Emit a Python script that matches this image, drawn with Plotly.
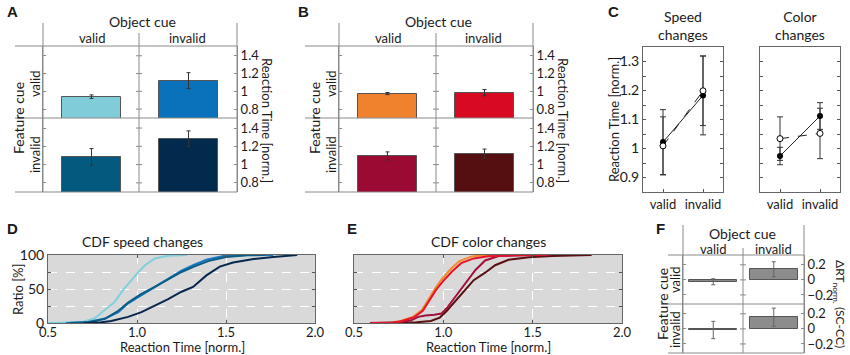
import plotly.graph_objects as go

W, H = 850, 355
def fx(x): return x / W
def fy(y): return 1 - y / H

# ---------------- DATA ----------------
cue_levels = ["valid", "invalid"]          # object cue (columns)
# Panel A: speed changes, mean RT (norm.) and error
speed_rt_fvalid = [0.94, 1.12]
speed_err_fvalid = [0.02, 0.09]
speed_rt_finvalid = [1.085, 1.284]
speed_err_finvalid = [0.09, 0.085]
speed_colors_fvalid = ["#80CDD9", "#0A72BA"]
speed_colors_finvalid = ["#035A7E", "#022A4C"]
# Panel B: color changes
color_rt_fvalid = [0.975, 0.985]
color_err_fvalid = [0.012, 0.035]
color_rt_finvalid = [1.094, 1.12]
color_err_finvalid = [0.045, 0.05]
color_colors_fvalid = ["#F0822E", "#D70A22"]
color_colors_finvalid = ["#9B0A33", "#560F10"]
# Panel C
c_x = [1, 2]
c_ticktext = ["valid", "invalid"]
speed_solid = [1.022, 1.183]
speed_solid_err = [0.112, 0.136]
speed_dashed = [1.009, 1.199]
speed_dashed_err = [0.100, 0.120]
color_solid = [0.974, 1.112]
color_solid_err = [0.030, 0.046]
color_dashed = [1.034, 1.052]
color_dashed_err = [0.075, 0.087]
# Panel D: CDF speed changes (RT norm., ratio %)
cyan_x = [0.50, 0.69, 0.76, 0.82, 0.875, 0.92, 0.96, 1.005, 1.045, 1.10, 1.175, 1.28]
cyan_y = [0, 1, 6.5, 19, 31, 48, 61, 74, 85, 95, 99, 100]
blue_x = [0.60, 0.725, 0.82, 0.895, 0.95, 1.025, 1.10, 1.175, 1.25, 1.315, 1.39, 1.485, 1.615, 1.765]
blue_y = [0, 1.5, 6.5, 16, 29, 41, 52, 64, 77, 85, 93, 98.5, 100, 100]
teal_x = [0.62, 0.73, 0.82, 0.89, 0.95, 1.02, 1.10, 1.18, 1.25, 1.32, 1.40, 1.50, 1.62, 1.72]
teal_y = [0, 1, 6, 17, 30, 42, 53, 65, 75, 83, 91, 97, 99.5, 100]
navy_x = [0.70, 0.80, 0.855, 0.95, 1.025, 1.10, 1.175, 1.25, 1.315, 1.39, 1.465, 1.54, 1.655, 1.765, 1.90]
navy_y = [0, 1, 3, 9, 16, 25, 35, 46, 53, 70, 83, 89, 94, 97, 100]
# Panel E: CDF color changes
orange_x = [0.60, 0.70, 0.76, 0.83, 0.88, 0.915, 0.955, 0.99, 1.04, 1.09, 1.16, 1.22, 1.28]
orange_y = [0, 0.5, 3, 9, 19, 34, 51, 64, 79, 91, 98, 99.5, 100]
red_x = [0.60, 0.72, 0.77, 0.84, 0.885, 0.92, 0.96, 1.00, 1.05, 1.10, 1.17, 1.25, 1.40, 1.58]
red_y = [0, 0.5, 3, 9, 18, 32, 49, 62, 76, 88, 95, 98, 99.5, 100]
crimson_x = [0.59, 0.75, 0.82, 0.86, 0.90, 0.95, 0.99, 1.02, 1.06, 1.10, 1.14, 1.18, 1.234, 1.31, 1.45, 1.60]
crimson_y = [0, 1, 4, 9, 11, 12, 14, 22, 36, 50, 64, 78, 92, 98.5, 99.5, 100]
maroon_x = [0.75, 0.85, 0.93, 0.98, 1.02, 1.06, 1.10, 1.14, 1.17, 1.234, 1.29, 1.365, 1.48, 1.61, 1.74, 1.83]
maroon_y = [0, 1, 3, 8, 18, 30, 42, 54, 63, 74, 85, 93, 96.6, 98.5, 99.5, 100]
# Panel F: delta RT (SC-CC)
delta_fvalid = [-0.025, 0.14]
delta_err_fvalid = [0.04, 0.10]
delta_finvalid = [-0.015, 0.155]
delta_err_finvalid = [0.115, 0.12]

FONT = "Lato"
TXT = "#1a1a1a"
LINE = "#8a8a8a"

fig = go.Figure()
layout = {}
shapes = []
anns = []

def ax_names(i):
    s = "" if i == 1 else str(i)
    return "xaxis" + s, "yaxis" + s, "x" + s, "y" + s

def ann(text, x, y, size=13, angle=0, bold=False, family=FONT, xanchor="center", yanchor="middle"):
    if bold:
        text = "<b>" + text + "</b>"
    anns.append(dict(text=text, x=fx(x), y=fy(y), xref="paper", yref="paper",
                     showarrow=False, textangle=angle, xanchor=xanchor, yanchor=yanchor,
                     font=dict(size=size, family=family, color=TXT)))

def hline(x0, x1, y, color=LINE, width=1):
    shapes.append(dict(type="line", xref="paper", yref="paper", x0=fx(x0), x1=fx(x1),
                       y0=fy(y), y1=fy(y), line=dict(color=color, width=width)))

def vline(x, y0, y1, color=LINE, width=1):
    shapes.append(dict(type="line", xref="paper", yref="paper", x0=fx(x), x1=fx(x),
                       y0=fy(y0), y1=fy(y1), line=dict(color=color, width=width)))

# ---------- grid bar panels (A, B, F) ----------
def bar_cell(i, xdom, ydom, vals, errs, colors, yrange, tickvals, midx, width, outline, errcolor, show_labels=True):
    xk, yk, xr, yr = ax_names(i)
    fig.add_trace(go.Bar(x=[0, 1], y=vals, width=width, marker=dict(color=colors, line=dict(color=outline, width=1)),
                         error_y=dict(type="data", array=errs, color=errcolor, thickness=1, width=2),
                         xaxis=xr, yaxis=yr, showlegend=False))
    layout[xk] = dict(domain=[fx(xdom[0]), fx(xdom[1])], anchor=yr, range=[-0.5, 1.5], automargin=False,
                      showgrid=False, zeroline=False, showticklabels=False, ticks="", showline=False)
    layout[yk] = dict(domain=[fy(ydom[1]), fy(ydom[0])], anchor=xr, range=yrange, side="right", automargin=False,
                      tickvals=tickvals, ticks="inside", ticklen=3, tickcolor=LINE,
                      showline=True, linecolor=LINE, mirror="ticks", showgrid=False, zeroline=False,
                      showticklabels=show_labels, tickfont=dict(size=13, family=FONT, color=TXT))
    for tv in tickvals:
        shapes.append(dict(type="line", xref="paper", yref=yr, x0=fx(midx - 3), x1=fx(midx + 3),
                           y0=tv, y1=tv, line=dict(color=LINE, width=1)))

def grid_frame(left, mid, right, hstart, topv, midtop, ytop, ymid, ybot):
    hline(hstart, right, ytop)
    hline(hstart, right, ymid)
    hline(hstart, right, ybot)
    vline(left, topv, ybot)
    vline(mid, midtop, ybot)
    vline(right, topv, ybot)

ab_range = [0.7, 1.51]
ab_ticks = [0.8, 1.0, 1.2, 1.4]
# A
bar_cell(1, (43, 237), (46, 118), speed_rt_fvalid, speed_err_fvalid, speed_colors_fvalid, ab_range, ab_ticks, 139, 0.6, "#555", "#333")
bar_cell(2, (43, 237), (118, 192), speed_rt_finvalid, speed_err_finvalid, speed_colors_finvalid, ab_range, ab_ticks, 139, 0.6, "#555", "#333")
grid_frame(43, 139, 237, 15, 23, 33, 46, 118, 192)
# B
bar_cell(3, (339, 533), (46, 118), color_rt_fvalid, color_err_fvalid, color_colors_fvalid, ab_range, ab_ticks, 436, 0.6, "#555", "#333")
bar_cell(4, (339, 533), (118, 192), color_rt_finvalid, color_err_finvalid, color_colors_finvalid, ab_range, ab_ticks, 436, 0.6, "#555", "#333")
grid_frame(339, 436, 533, 305, 23, 33, 46, 118, 192)

for ox, left, mid, right in [(0, 43, 139, 237), (296, 339, 436, 533)]:
    ann("Object cue", (left + right) / 2 + 2, 21, size=14)
    ann(cue_levels[0], (left + mid) / 2 + 1, 38, size=13)
    ann(cue_levels[1], (mid + right) / 2 - 1, 38, size=13)
    ann("Feature cue", left - 25, 118, size=14, angle=-90)
    ann(cue_levels[0], left - 8, 84, size=13, angle=-90)
    ann(cue_levels[1], left - 8, 155, size=13, angle=-90)
    ann("Reaction Time [norm.]", right + 30, 120, size=13, angle=90)

# F
f_range = [-0.32, 0.33]
f_ticks = [-0.2, 0, 0.2]
bar_cell(9, (683, 804), (255, 304), delta_fvalid, delta_err_fvalid, ["#8c8c8c", "#8c8c8c"], f_range, f_ticks, 743, 0.8, "#555", "#666")
bar_cell(10, (683, 804), (304, 353), delta_finvalid, delta_err_finvalid, ["#8c8c8c", "#8c8c8c"], f_range, f_ticks, 743, 0.8, "#555", "#666")
grid_frame(683, 743, 804, 668, 225, 248, 255, 304, 353)
ann("Object cue", 742, 233, size=14)
ann(cue_levels[0], 713, 249, size=13)
ann(cue_levels[1], 773, 249, size=13)
ann("Feature cue", 662, 304, size=14, angle=-90)
ann(cue_levels[0], 675, 280, size=13, angle=-90)
ann(cue_levels[1], 675, 330, size=13, angle=-90)
ann("ΔRT<sub>norm.</sub> (SC-CC)", 840, 304, size=12, angle=90)

# ---------- C ----------
def c_axes(i, xdom, show_labels):
    xk, yk, xr, yr = ax_names(i)
    layout[xk] = dict(domain=[fx(xdom[0]), fx(xdom[1])], anchor=yr, range=[0.5, 2.5], automargin=False,
                      tickvals=c_x, ticktext=c_ticktext, ticks="inside", ticklen=3, tickcolor="#555",
                      showline=True, linecolor="#666", mirror=True, showgrid=False, zeroline=False,
                      tickfont=dict(size=13, family=FONT, color=TXT))
    layout[yk] = dict(domain=[fy(192), fy(47)], anchor=xr, range=[0.85, 1.35], automargin=False,
                      tick0=0.9, dtick=0.1, ticks="inside", ticklen=3, tickcolor="#555",
                      minor=dict(dtick=0.05, ticks="inside", ticklen=3, tickcolor="#555"),
                      showline=True, linecolor="#666", mirror="ticks", showgrid=False, zeroline=False,
                      showticklabels=show_labels, tickfont=dict(size=14, family=FONT, color=TXT))
    return xr, yr

for i, xdom, solid, solid_err, dashed, dashed_err, lab in [
        (5, (643, 723), speed_solid, speed_solid_err, speed_dashed, speed_dashed_err, True),
        (6, (760, 840), color_solid, color_solid_err, color_dashed, color_dashed_err, False)]:
    xr, yr = c_axes(i, xdom, lab)
    fig.add_trace(go.Scatter(x=c_x, y=dashed, mode="lines", line=dict(color="#222", width=1, dash="dash"),
                             error_y=dict(type="data", array=dashed_err, color="#333", thickness=1, width=3),
                             xaxis=xr, yaxis=yr, showlegend=False))
    fig.add_trace(go.Scatter(x=c_x, y=solid, mode="lines+markers", line=dict(color="#222", width=1),
                             marker=dict(color="black", size=6),
                             error_y=dict(type="data", array=solid_err, color="#333", thickness=1, width=3),
                             xaxis=xr, yaxis=yr, showlegend=False))
    fig.add_trace(go.Scatter(x=c_x, y=dashed, mode="markers",
                             marker=dict(color="white", size=6, line=dict(color="black", width=1)),
                             xaxis=xr, yaxis=yr, showlegend=False))

ann("Speed<br>changes", 683, 25, size=14)
ann("Color<br>changes", 800, 25, size=14)
ann("Reaction Time [norm.]", 614, 120, size=13, angle=-90)

# ---------- D, E ----------
def cdf_axes(i, xdom, show_ylabels):
    xk, yk, xr, yr = ax_names(i)
    layout[xk] = dict(domain=[fx(xdom[0]), fx(xdom[1])], anchor=yr, range=[0.5, 2.0], automargin=False,
                      tickvals=[0.5, 1.0, 1.5, 2.0], ticktext=["0.5", "1.0", "1.5", "2.0"],
                      ticks="inside", ticklen=3, tickcolor="#555", showline=True, linecolor="#666",
                      mirror="ticks", showgrid=True, gridcolor="white", griddash="dash", gridwidth=1,
                      ticklabelstandoff=-3,
                      zeroline=False, tickfont=dict(size=13, family=FONT, color=TXT))
    layout[yk] = dict(domain=[fy(323), fy(255)], anchor=xr, range=[0, 100], automargin=False,
                      tickvals=[0, 50, 100],
                      ticks="inside", ticklen=3, tickcolor="#555", showline=True, linecolor="#666",
                      mirror="ticks", showgrid=True, gridcolor="white", griddash="dash", gridwidth=1,
                      minor=dict(tickvals=[25, 75], ticks="inside", ticklen=3, tickcolor="#555",
                                 showgrid=True, gridcolor="white", griddash="dash", gridwidth=1),
                      zeroline=False, showticklabels=show_ylabels,
                      tickfont=dict(size=14, family=FONT, color=TXT))
    shapes.append(dict(type="rect", xref="paper", yref="paper", x0=fx(xdom[0]), x1=fx(xdom[1]),
                       y0=fy(323), y1=fy(255), fillcolor="#D9D9D9", line=dict(width=0), layer="below"))
    return xr, yr

xr, yr = cdf_axes(7, (48, 315), True)
for xs, ys, col in [(cyan_x, cyan_y, "#7FCFDC"), (blue_x, blue_y, "#1678C2"), (teal_x, teal_y, "#0B5D84"), (navy_x, navy_y, "#06284D")]:
    fig.add_trace(go.Scatter(x=xs, y=ys, mode="lines", line=dict(color=col, width=2),
                             xaxis=xr, yaxis=yr, showlegend=False))
xr, yr = cdf_axes(8, (354, 622), False)
for xs, ys, col in [(orange_x, orange_y, "#F28A2A"), (maroon_x, maroon_y, "#5A1010"), (crimson_x, crimson_y, "#A0103A"), (red_x, red_y, "#E4142A")]:
    fig.add_trace(go.Scatter(x=xs, y=ys, mode="lines", line=dict(color=col, width=2),
                             xaxis=xr, yaxis=yr, showlegend=False))

ann("CDF speed changes", 142, 241, size=14)
ann("CDF color changes", 488, 241, size=14)
ann("Reaction Time [norm.]", 182, 347, size=13)
ann("Reaction Time [norm.]", 488, 347, size=13)
ann("Ratio [%]", 18, 289, size=13, angle=-90)

# panel letters
for letter, x, y in [("A", 5, 12), ("B", 296, 12), ("C", 606, 12), ("D", 5, 228), ("E", 345, 228), ("F", 654, 228)]:
    ann(letter, x, y, size=15, bold=True, family="Liberation Sans", xanchor="left")

fig.update_layout(template="none", width=W, height=H, margin=dict(l=0, r=0, t=0, b=0, autoexpand=False),
                  paper_bgcolor="white", plot_bgcolor="rgba(0,0,0,0)",
                  shapes=shapes, annotations=anns, bargap=0, **layout)
fig.write_html("out.html", config={"displayModeBar": False},
               post_script="document.body.style.margin='0px';document.body.style.overflow='hidden';")
